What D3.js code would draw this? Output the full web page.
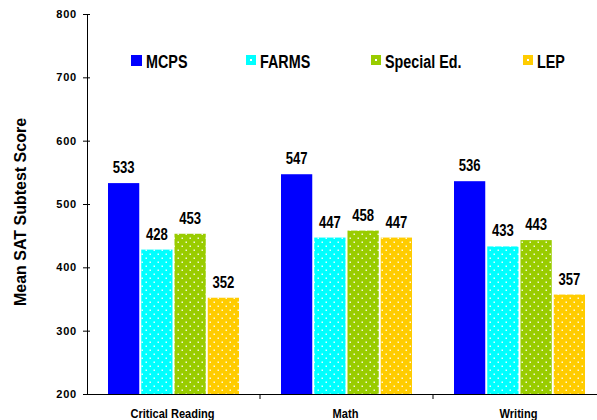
<!DOCTYPE html>
<html>
<head>
<meta charset="utf-8">
<script src="https://cdn.jsdelivr.net/npm/d3@7"></script>
<style>
  body { margin: 0; background: #fff; }
  text { font-family: "Liberation Sans", Arial, sans-serif; font-weight: bold; }
</style>
</head>
<body>
<svg id="chart" width="597" height="420"></svg>
<script>
// data
const subjects = ["Critical Reading", "Math", "Writing"];
const groups = ["MCPS", "FARMS", "Special Ed.", "LEP"];
const mcps = [533, 547, 536];
const farms = [428, 447, 433];
const specialEd = [453, 458, 443];
const lep = [352, 447, 357];
const yTicks = [200, 300, 400, 500, 600, 700, 800];

const colors = ["#0000ff", "#00ffff", "#99cc00", "#ffcc00"];
const dotted = [false, true, true, true];
const seriesVals = [mcps, farms, specialEd, lep];
const squeeze = 0.82; // text in the picture looks condensed

const rows = [];
subjects.forEach((s, i) => {
  groups.forEach((g, j) => rows.push({ subject: s, group: g, gi: j, value: seriesVals[j][i] }));
});

const svg = d3.select("#chart");
const padLeft = 87, padTop = 14, axisY = 394;

const defs = svg.append("defs");
colors.forEach((c, j) => {
  const p = defs.append("pattern")
    .attr("id", "pat" + j)
    .attr("patternUnits", "userSpaceOnUse")
    .attr("width", 8).attr("height", 8);
  p.append("rect").attr("width", 8).attr("height", 8).attr("fill", c);
  if (dotted[j]) {
    p.append("rect").attr("x", 1.5).attr("y", 1.5).attr("width", 1.5).attr("height", 1.5).attr("fill", "#fff").attr("opacity", 0.85);
    p.append("rect").attr("x", 5.5).attr("y", 5.5).attr("width", 1.5).attr("height", 1.5).attr("fill", "#fff").attr("opacity", 0.85);
  }
});

const x0 = d3.scaleBand().domain(subjects).range([padLeft, 606]);
const x1 = d3.scaleBand().domain(groups).range([21, 152]).paddingInner(0.06);
const y = d3.scaleLinear().domain([200, 800]).range([axisY, padTop]);

// bars
svg.append("g").selectAll("rect")
  .data(rows)
  .join("rect")
  .attr("x", d => x0(d.subject) + x1(d.group))
  .attr("y", d => y(d.value))
  .attr("width", x1.bandwidth())
  .attr("height", d => y(200) - y(d.value))
  .attr("fill", d => "url(#pat" + d.gi + ")");

// value labels
svg.append("g").selectAll("text")
  .data(rows)
  .join("text")
  .attr("transform", d => `translate(${x0(d.subject) + x1(d.group) + x1.bandwidth() / 2},${y(d.value) - 10}) scale(${squeeze},1)`)
  .attr("text-anchor", "middle")
  .attr("font-size", 16)
  .attr("fill", "#000")
  .text(d => d.value);

// y axis
const yAxis = svg.append("g")
  .attr("transform", `translate(${padLeft},0)`)
  .call(d3.axisLeft(y).tickValues(yTicks).tickSize(4).tickSizeOuter(0));
yAxis.selectAll(".tick line").attr("x1", 3).attr("x2", -4).attr("stroke", "#000");
yAxis.selectAll("text").attr("font-size", 11).attr("x", -10).attr("letter-spacing", 0.8).attr("fill", "#000");
yAxis.select(".domain").attr("stroke", "#000");

// x axis
const xAxis = svg.append("g")
  .attr("transform", `translate(0,${axisY})`)
  .call(d3.axisBottom(x0).tickSize(0).tickSizeOuter(0));
xAxis.selectAll("text").remove();
xAxis.select(".domain").attr("stroke", "#000");
svg.append("g").selectAll("line")
  .data(subjects.slice(1))
  .join("line")
  .attr("x1", d => x0(d)).attr("x2", d => x0(d))
  .attr("y1", axisY).attr("y2", axisY + 5)
  .attr("stroke", "#000");
svg.append("g").selectAll("text")
  .data(subjects)
  .join("text")
  .attr("transform", d => `translate(${x0(d) + x0.bandwidth() / 2 - 1},${axisY + 24}) scale(${squeeze},1)`)
  .attr("text-anchor", "middle")
  .attr("font-size", 13.5)
  .text(d => d);

// y title
svg.append("text")
  .attr("transform", "translate(26,212) rotate(-90)")
  .attr("text-anchor", "middle")
  .attr("font-size", 16)
  .text("Mean SAT Subtest Score");

// legend
const legendX = [131, 246, 371, 523];
const lg = svg.append("g").selectAll("g")
  .data(groups)
  .join("g")
  .attr("transform", (d, j) => `translate(${legendX[j]},55)`);
lg.append("rect")
  .attr("width", (d, j) => j === 0 ? 11 : 10)
  .attr("height", (d, j) => j === 0 ? 11 : 10)
  .attr("fill", (d, j) => colors[j]);
lg.filter((d, j) => dotted[j]).append("rect")
  .attr("x", 4).attr("y", 4).attr("width", 2).attr("height", 2).attr("fill", "#fff");
lg.append("text")
  .attr("transform", (d, j) => `translate(${j === 0 ? 15 : 14},13) scale(${squeeze},1)`)
  .attr("font-size", 17.5)
  .text(d => d);
</script>
</body>
</html>
